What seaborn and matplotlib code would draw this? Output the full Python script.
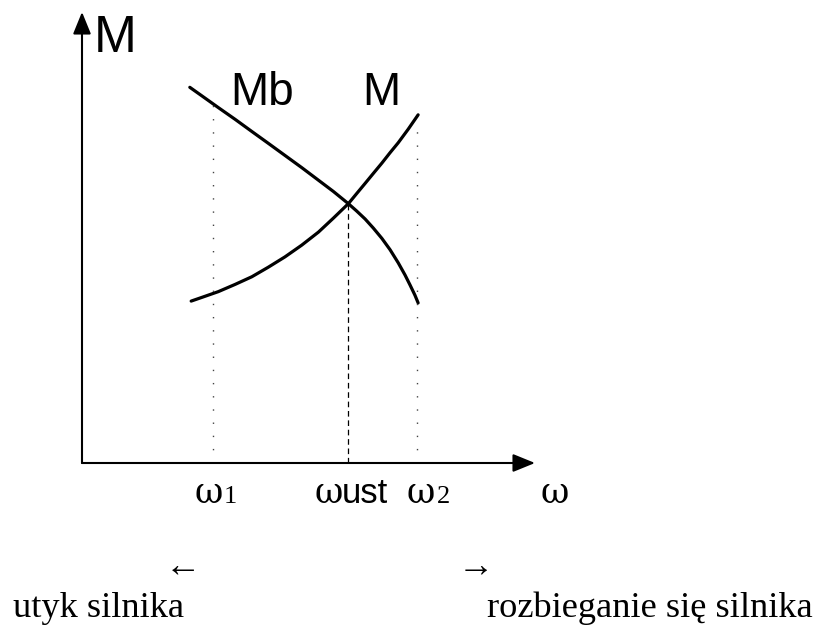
import matplotlib
matplotlib.use("Agg")
import matplotlib.pyplot as plt
import seaborn as sns
import pandas as pd

# ---- data (arbitrary units) ----
omega_mb = [2.38, 2.64, 3.01, 3.38, 3.75, 4.11, 4.48, 4.85, 5.22, 5.55, 5.88,
            6.06, 6.25, 6.43, 6.62, 6.80, 6.98, 7.13, 7.24, 7.35, 7.42]
mb_vals = [8.33, 8.145, 7.88, 7.62, 7.35, 7.09, 6.82, 6.55, 6.27, 6.02, 5.75,
           5.59, 5.41, 5.21, 4.98, 4.73, 4.44, 4.17, 3.95, 3.72, 3.55]
omega_m = [2.41, 2.64, 3.01, 3.38, 3.75, 4.11, 4.48, 4.85, 5.22, 5.55, 5.88,
           6.06, 6.25, 6.43, 6.62, 6.80, 6.98, 7.20, 7.42]
m_vals = [3.59, 3.67, 3.80, 3.96, 4.13, 4.34, 4.57, 4.83, 5.12, 5.43, 5.75,
          5.97, 6.20, 6.42, 6.65, 6.88, 7.10, 7.40, 7.72]

omega_marks = [2.885, 5.88, 7.40]          # omega1, omega_ust, omega2
omega_mark_tops = [8.11, 5.75, 7.49]
omega_mark_styles = ["dotted", "dashed", "dotted"]
axis_end = [10.0, 10.0]                    # omega axis, M axis

tick_labels = [("\u03c9", "1"), ("\u03c9", "ust"), ("\u03c9", "2")]

sns.set_style("white")
plt.rcParams["font.family"] = ["Liberation Sans", "DejaVu Sans"]
plt.rcParams["text.color"] = "black"

W, H = 819, 629
fig = plt.figure(figsize=(W / 100, H / 100), dpi=100)
ax = fig.add_axes([0, 0, 1, 1])
sx, sy = 45.3, 45.1
ox, oy = 82, 463
ax.set_xlim(-ox / sx, (W - ox) / sx)
ax.set_ylim(-(H - oy) / sy, oy / sy)
ax.axis("off")

df = pd.concat([
    pd.DataFrame({"omega": omega_mb, "val": mb_vals, "curve": "Mb"}),
    pd.DataFrame({"omega": omega_m, "val": m_vals, "curve": "M"}),
])
sns.lineplot(data=df, x="omega", y="val", units="curve", estimator=None,
             color="black", lw=2.3, ax=ax, legend=False, sort=True)

# vertical marker lines
for xv, top, st in zip(omega_marks, omega_mark_tops, omega_mark_styles):
    if st == "dotted":
        ax.plot([xv, xv], [0, top], color="#444444", lw=1.0,
                linestyle=(0, (1, 8.5)), solid_capstyle="butt")
    else:
        ax.plot([xv, xv], [0, top], color="black", lw=0.9,
                linestyle=(0, (4.5, 3.0)))

# axes with arrows
arrow = dict(arrowstyle="-|>,head_length=1.35,head_width=0.55", lw=1.5,
             color="black", shrinkA=0, shrinkB=0, mutation_scale=10)
ax.annotate("", xy=(axis_end[0], 0), xytext=(0, 0), arrowprops=arrow)
ax.annotate("", xy=(0, axis_end[1]), xytext=(0, 0), arrowprops=arrow)


def ftxt(px, py, s, **kw):
    fig.text(px / W, 1 - py / H, s, color="black", **kw)


# curve / axis labels
ftxt(94, 52, "M", fontsize=37, family=["Liberation Sans"], va="baseline", ha="left")
ftxt(230, 105, "Mb", fontsize=33, family=["Liberation Sans"], va="baseline", ha="left")
ftxt(362, 105, "M", fontsize=33, family=["Liberation Sans"], va="baseline", ha="left")

# omega tick labels
omega_font = dict(fontsize=25, family=["DejaVu Serif"],
                  va="baseline", ha="left")
positions = [(195, 224), (315, 342), (407, 437)]
for (om, sub), (px1, px2) in zip(tick_labels, positions):
    ftxt(px1, 503, om, **omega_font)
    if sub == "ust":
        ftxt(px2, 503, sub, fontsize=25, family=["Liberation Sans"],
             va="baseline", ha="left")
    else:
        ftxt(px2, 503, sub, fontsize=19, family=["Liberation Serif"],
             va="baseline", ha="left")
ftxt(540, 503, "\u03c9", **omega_font)

# bottom annotations
serif = dict(fontsize=26.2, family=["Liberation Serif", "DejaVu Serif"])
ftxt(183, 568, "\u2190", ha="center", va="center", **serif)
ftxt(476, 568, "\u2192", ha="center", va="center", **serif)
ftxt(13, 617, "utyk silnika", ha="left", va="baseline", **serif)
ftxt(487, 617, "rozbieganie się silnika", ha="left", va="baseline", **serif)

fig.savefig("out.png", dpi=100)
